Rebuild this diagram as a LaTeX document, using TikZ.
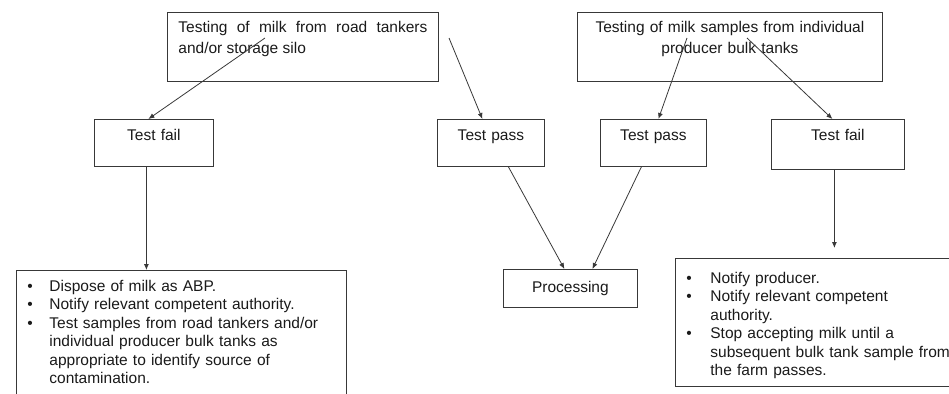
\documentclass[tikz,border=0pt]{standalone}
\usepackage{fontspec}
\setmainfont{Liberation Sans}
\usetikzlibrary{arrows.meta}
\definecolor{linec}{HTML}{383838}
\definecolor{textc}{HTML}{1A1A1A}
\newcommand\bul[1]{\makebox[#1][l]{\textbullet}}
\begin{document}
\begin{tikzpicture}[x=1pt,y=-1pt,
  box/.style={draw=linec, line width=0.8pt, inner sep=0pt, anchor=north west,
    text=textc, font=\fontsize{15.5}{21}\selectfont, align=center},
  listbox/.style={draw=linec, line width=0.8pt, inner ysep=0pt, inner xsep=11pt, anchor=north west,
    text=textc, font=\fontsize{15.5}{18.5}\selectfont, align=left},
  arr/.style={draw=linec, line width=0.8pt, -{Latex[length=6pt,width=5pt]}},
]
\path[use as bounding box] (0,0) rectangle (949,393);
\clip (0,0) rectangle (949,393);

% top boxes
\node[box, text width=249pt, inner xsep=11pt, text height=20pt, text depth=49pt, align=justify] (A) at (167,12)
  {Testing of milk from road tankers and/or storage silo};
\node[box, text width=283pt, inner xsep=11pt, text height=20pt, text depth=49pt] (B) at (577,12)
  {Testing of milk samples from individual\\producer bulk tanks};

% result boxes
\node[box, text width=119pt, text height=21pt, text depth=26pt] (tf1) at (94,119) {Test fail};
\node[box, text width=107pt, text height=21pt, text depth=26pt] (tp1) at (437,119) {Test pass};
\node[box, text width=106pt, text height=21pt, text depth=26pt] (tp2) at (600,119) {Test pass};
\node[box, text width=133pt, text height=21pt, text depth=29pt] (tf2) at (771,119) {Test fail};
\node[box, text width=134pt, text height=23pt, text depth=15pt] (proc) at (503,269) {Processing};

% action boxes
\node[listbox, text width=308pt, text height=21pt, text depth=150pt] (L) at (16,270) {%
  \bul{22pt}Dispose of milk as ABP.\\
  \bul{22pt}Notify relevant competent authority.\\
  \bul{22pt}\mbox{Test samples from road tankers and/or}\\
  \hspace*{22pt}\mbox{individual producer bulk tanks as}\\
  \hspace*{22pt}\mbox{appropriate to identify source of}\\
  \hspace*{22pt}contamination.};
\node[listbox, text width=251.5pt, text height=25pt, text depth=103pt] (R) at (675,258) {%
  \bul{24pt}Notify producer.\\
  \bul{24pt}\mbox{Notify relevant competent}\\
  \hspace*{24pt}authority.\\
  \bul{24pt}\mbox{Stop accepting milk until a}\\
  \hspace*{24pt}\mbox{subsequent bulk tank sample from}\\
  \hspace*{24pt}\mbox{the farm passes.}};

% connectors
\coordinate (a1) at (265,38);
\coordinate (a2) at (449,38);
\coordinate (b1) at (687,38);
\coordinate (b2) at (747,38);
\draw[arr] (a1) -- ([xshift=-5.5pt]tf1.north);
\draw[arr] (a2) -- ([xshift=-8.5pt]tp1.north);
\draw[arr] (b1) -- ([xshift=5pt]tp2.north);
\draw[arr] (b2) -- ([xshift=-5.5pt]tf2.north);
\coordinate (c1) at ([xshift=-7.5pt]tf1.south);
\draw[arr] (c1) -- (c1 |- L.north);
\draw[arr] ([xshift=17.5pt]tp1.south) -- ([xshift=-6pt]proc.north);
\draw[arr] ([xshift=-12pt]tp2.south) -- ([xshift=22pt]proc.north);
\coordinate (c2) at ([xshift=-3.5pt]tf2.south);
\draw[arr, shorten >=10pt] (c2) -- (c2 |- R.north);
\end{tikzpicture}
\end{document}
